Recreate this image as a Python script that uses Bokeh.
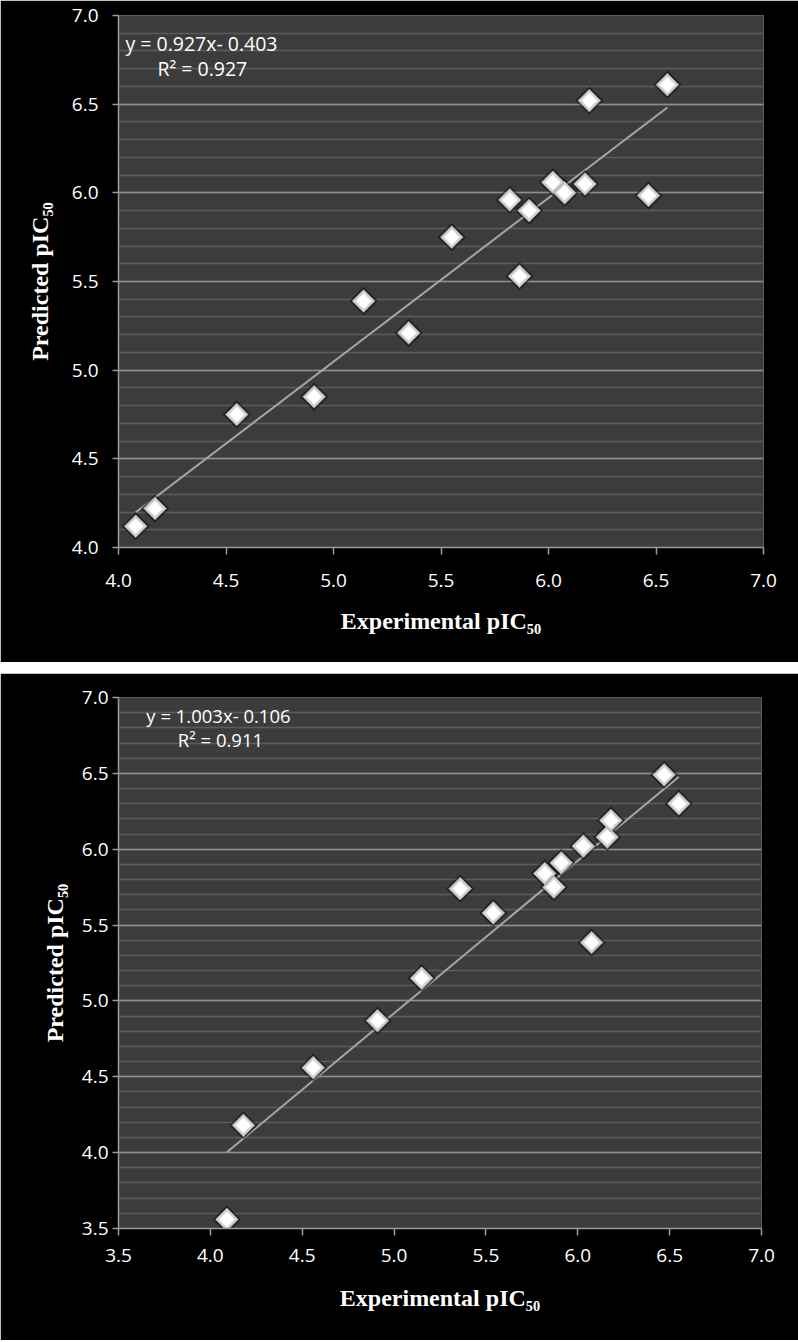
import numpy as np
from bokeh.plotting import figure
from bokeh.layouts import column
from bokeh.models import Spacer, SingleIntervalTicker, Range1d, PrintfTickFormatter, Label
from bokeh.embed import file_html
from bokeh.resources import INLINE

# ---- data ----
exp_top = [4.08, 4.17, 4.55, 4.91, 5.14, 5.35, 5.55, 5.82, 5.865, 5.91, 6.02, 6.075, 6.17, 6.19, 6.465, 6.553]
pred_top = [4.12, 4.22, 4.75, 4.85, 5.39, 5.21, 5.75, 5.96, 5.53, 5.90, 6.06, 6.00, 6.05, 6.52, 5.985, 6.61]

exp_bot = [4.09, 4.18, 4.56, 4.91, 5.15, 5.36, 5.54, 5.82, 5.87, 5.91, 6.03, 6.075, 6.16, 6.18, 6.47, 6.55]
pred_bot = [3.56, 4.18, 4.56, 4.87, 5.15, 5.74, 5.58, 5.84, 5.75, 5.91, 6.02, 5.385, 6.08, 6.19, 6.49, 6.30]

eq_top = ["y = 0.927x- 0.403", "R\u00b2 = 0.927"]
eq_bot = ["y = 1.003x- 0.106", "R\u00b2 = 0.911"]

x_title = "Experimental pIC\u2085\u2080"
y_title = "Predicted pIC\u2085\u2080"


def make_panel(xs, ys, eq, eq_pos, xr, yr, fw, fh, bl, br, bt, bb,
               ytick_standoff, ylab_standoff, xtick_standoff, xlab_standoff, eq_size):
    p = figure(frame_width=fw, frame_height=fh,
               x_range=Range1d(*xr), y_range=Range1d(*yr),
               output_backend="svg", toolbar_location=None,
               min_border_left=bl, min_border_right=br,
               min_border_top=bt, min_border_bottom=bb)
    p.background_fill_color = "#3c3c3c"
    p.border_fill_color = "black"
    p.outline_line_color = None

    p.xgrid.visible = False
    p.ygrid.grid_line_color = "#8e8e8e"
    p.ygrid.grid_line_width = 1.5
    p.ygrid.minor_grid_line_color = "#5c5c5c"
    p.ygrid.minor_grid_line_width = 1.5

    p.yaxis.ticker = SingleIntervalTicker(interval=0.5, num_minor_ticks=5)
    p.xaxis.ticker = SingleIntervalTicker(interval=0.5, num_minor_ticks=0)
    p.xaxis.formatter = PrintfTickFormatter(format="%.1f")
    p.yaxis.formatter = PrintfTickFormatter(format="%.1f")

    for ax in (p.xaxis, p.yaxis):
        ax.axis_line_color = "#9a9a9a"
        ax.axis_line_width = 1.5
        ax.major_tick_line_color = "#9a9a9a"
        ax.major_tick_line_width = 1.5
        ax.major_tick_in = 0
        ax.minor_tick_line_color = None
        ax.major_label_text_font = "Open Sans"
        ax.major_label_text_font_size = "19px"
        ax.major_label_text_color = "white"
        ax.axis_label_text_font = "Liberation Serif"
        ax.axis_label_text_font_style = "bold"
        ax.axis_label_text_font_size = "24px"
        ax.axis_label_text_color = "white"

    p.yaxis.major_tick_out = 6
    p.xaxis.major_tick_out = 7
    p.yaxis.major_label_standoff = ytick_standoff
    p.yaxis.axis_label_standoff = ylab_standoff
    p.xaxis.major_label_standoff = xtick_standoff
    p.xaxis.axis_label_standoff = xlab_standoff
    p.xaxis.axis_label = x_title
    p.yaxis.axis_label = y_title

    # trend line fitted to the points
    slope, icpt = np.polyfit(xs, ys, 1)
    lx = np.array([min(xs), max(xs)])
    p.line(lx, slope * lx + icpt, line_color="#a6a6a6", line_width=2)

    # bevelled white diamonds
    p.scatter(xs, ys, marker="square", angle=np.pi / 4, size=20,
              fill_color="black", fill_alpha=0.45, line_color=None)
    p.scatter(xs, ys, marker="square", angle=np.pi / 4, size=16,
              fill_color="#d2d2d2", line_color="#9c9c9c", line_width=1)
    p.scatter(xs, ys, marker="square", angle=np.pi / 4, size=11,
              fill_color="white", line_color=None)

    for txt, (ex, ey) in zip(eq, eq_pos):
        p.add_layout(Label(x=ex, y=ey, text=txt, text_align="center",
                           text_baseline="middle", text_color="white",
                           text_font="Open Sans", text_font_size=eq_size))
    return p


p1 = make_panel(exp_top, pred_top, eq_top, [(4.386, 6.842), (4.39, 6.70)],
                (4.0, 7.0), (4.0, 7.0), 645, 532, 118, 35, 15, 115,
                14, 16, 19, 18, "19.5px")
p2 = make_panel(exp_bot, pred_bot, eq_bot, [(4.044, 6.881), (4.055, 6.723)],
                (3.5, 7.0), (3.5, 7.0), 643, 531, 118, 37, 24, 112,
                4, 11, 13, 20, "18.5px")

layout = column(p1, Spacer(width=798, height=11), p2, spacing=0)
open("out.html", "w").write(file_html(layout, INLINE))
